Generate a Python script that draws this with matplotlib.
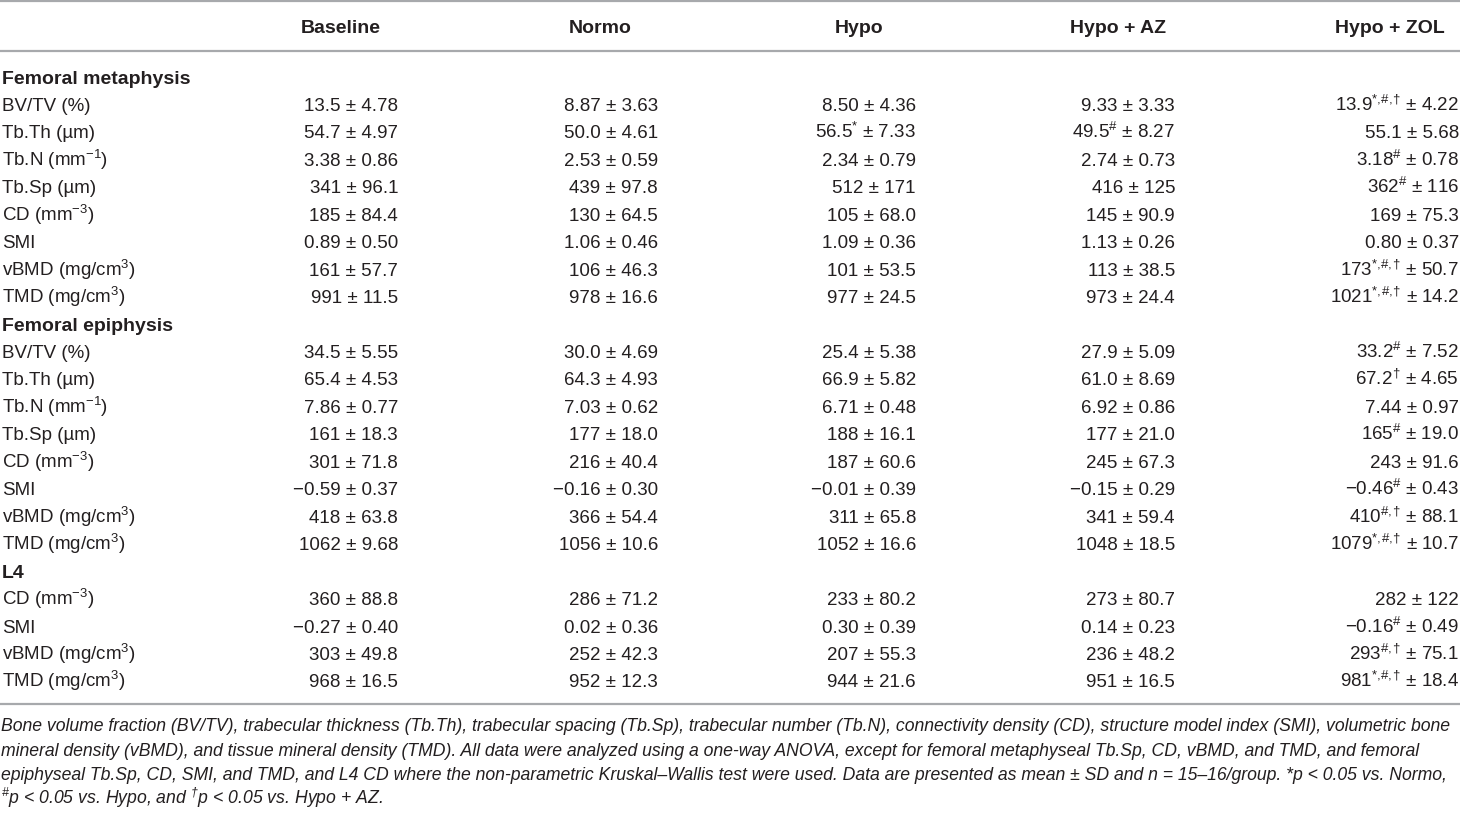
import matplotlib
matplotlib.use("Agg")
import matplotlib.pyplot as plt
from matplotlib import font_manager

# table content
groups = ["Baseline", "Normo", "Hypo", "Hypo + AZ", "Hypo + ZOL"]
sections = ["Femoral metaphysis", "Femoral epiphysis", "L4"]

femur_params = ["BV/TV (%)", "Tb.Th (µm)", "Tb.N (mm$^{-1}$)", "Tb.Sp (µm)",
                "CD (mm$^{-3}$)", "SMI", "vBMD (mg/cm$^{3}$)", "TMD (mg/cm$^{3}$)"]
l4_params = ["CD (mm$^{-3}$)", "SMI", "vBMD (mg/cm$^{3}$)", "TMD (mg/cm$^{3}$)"]

# femoral metaphysis: mean, sd, significance marks (one row per parameter)
meta_mean = [["13.5", "8.87", "8.50", "9.33", "13.9"],
             ["54.7", "50.0", "56.5", "49.5", "55.1"],
             ["3.38", "2.53", "2.34", "2.74", "3.18"],
             ["341", "439", "512", "416", "362"],
             ["185", "130", "105", "145", "169"],
             ["0.89", "1.06", "1.09", "1.13", "0.80"],
             ["161", "106", "101", "113", "173"],
             ["991", "978", "977", "973", "1021"]]
meta_sd = [["4.78", "3.63", "4.36", "3.33", "4.22"],
           ["4.97", "4.61", "7.33", "8.27", "5.68"],
           ["0.86", "0.59", "0.79", "0.73", "0.78"],
           ["96.1", "97.8", "171", "125", "116"],
           ["84.4", "64.5", "68.0", "90.9", "75.3"],
           ["0.50", "0.46", "0.36", "0.26", "0.37"],
           ["57.7", "46.3", "53.5", "38.5", "50.7"],
           ["11.5", "16.6", "24.5", "24.4", "14.2"]]
meta_sig = [["", "", "", "", "*#†"],
            ["", "", "*", "#", ""],
            ["", "", "", "", "#"],
            ["", "", "", "", "#"],
            ["", "", "", "", ""],
            ["", "", "", "", ""],
            ["", "", "", "", "*#†"],
            ["", "", "", "", "*#†"]]

# femoral epiphysis
epi_mean = [["34.5", "30.0", "25.4", "27.9", "33.2"],
            ["65.4", "64.3", "66.9", "61.0", "67.2"],
            ["7.86", "7.03", "6.71", "6.92", "7.44"],
            ["161", "177", "188", "177", "165"],
            ["301", "216", "187", "245", "243"],
            ["−0.59", "−0.16", "−0.01", "−0.15", "−0.46"],
            ["418", "366", "311", "341", "410"],
            ["1062", "1056", "1052", "1048", "1079"]]
epi_sd = [["5.55", "4.69", "5.38", "5.09", "7.52"],
          ["4.53", "4.93", "5.82", "8.69", "4.65"],
          ["0.77", "0.62", "0.48", "0.86", "0.97"],
          ["18.3", "18.0", "16.1", "21.0", "19.0"],
          ["71.8", "40.4", "60.6", "67.3", "91.6"],
          ["0.37", "0.30", "0.39", "0.29", "0.43"],
          ["63.8", "54.4", "65.8", "59.4", "88.1"],
          ["9.68", "10.6", "16.6", "18.5", "10.7"]]
epi_sig = [["", "", "", "", "#"],
           ["", "", "", "", "†"],
           ["", "", "", "", ""],
           ["", "", "", "", "#"],
           ["", "", "", "", ""],
           ["", "", "", "", "#"],
           ["", "", "", "", "#†"],
           ["", "", "", "", "*#†"]]

# L4
l4_mean = [["360", "286", "233", "273", "282"],
           ["−0.27", "0.02", "0.30", "0.14", "−0.16"],
           ["303", "252", "207", "236", "293"],
           ["968", "952", "944", "951", "981"]]
l4_sd = [["88.8", "71.2", "80.2", "80.7", "122"],
         ["0.40", "0.36", "0.39", "0.23", "0.49"],
         ["49.8", "42.3", "55.3", "48.2", "75.1"],
         ["16.5", "12.3", "21.6", "16.5", "18.4"]]
l4_sig = [["", "", "", "", ""],
          ["", "", "", "", "#"],
          ["", "", "", "", "#†"],
          ["", "", "", "", "*#†"]]

notes = [
    "Bone volume fraction (BV/TV), trabecular thickness (Tb.Th), trabecular spacing (Tb.Sp), "
    "trabecular number (Tb.N), connectivity density (CD), structure model index (SMI), volumetric bone",
    "mineral density (vBMD), and tissue mineral density (TMD). All data were analyzed using a one-way "
    "ANOVA, except for femoral metaphyseal Tb.Sp, CD, vBMD, and TMD, and femoral",
    "epiphyseal Tb.Sp, CD, SMI, and TMD, and L4 CD where the non-parametric Kruskal–Wallis test were "
    "used. Data are presented as mean ± SD and n = 15–16/group. *p < 0.05 vs. Normo,",
    r"$^{\#}$p < 0.05 vs. Hypo, and $^{\dagger}$p < 0.05 vs. Hypo + AZ.",
]

# fonts
plt.rcParams["font.family"] = ["Liberation Sans", "DejaVu Sans"]
plt.rcParams["mathtext.fontset"] = "custom"
plt.rcParams["mathtext.rm"] = "Liberation Sans"
plt.rcParams["mathtext.it"] = "Liberation Sans:italic"
plt.rcParams["mathtext.bf"] = "Liberation Sans:bold"
plt.rcParams["mathtext.default"] = "regular"

installed = {f.name for f in font_manager.fontManager.ttflist}
NOTE_FONT = "Liberation Sans Narrow" if "Liberation Sans Narrow" in installed else "Liberation Sans"

INK = "#231f20"
RULE = "#a7a9ac"
col_right = [398, 658, 916, 1175, 1459]
col_head = [341, 600, 859, 1118, 1390]
ROW0 = 83.5
STEP = 27.45


def sig_tex(marks):
    # turns "*#†" into a superscript string, commas kept tight
    sym = {"*": "*", "#": r"\#", "†": r"\!\dagger\!"}
    if marks == "":
        return ""
    return "$^{" + r",\!".join(sym[m] for m in marks) + "}$"


fig = plt.figure(figsize=(14.6, 8.13), dpi=100)
ax = fig.add_axes([0, 0, 1, 1])
ax.set_xlim(0, 1460)
ax.set_ylim(813, 0)
ax.axis("off")

# rules
for y in [1.5, 51, 704]:
    ax.axhline(y, color=RULE, lw=1.6)

# header
for x, g in zip(col_head, groups):
    ax.text(x, 33, g, ha="center", va="baseline", fontsize=14,
            fontweight="bold", color=INK)

blocks = [(femur_params, meta_mean, meta_sd, meta_sig),
          (femur_params, epi_mean, epi_sd, epi_sig),
          (l4_params, l4_mean, l4_sd, l4_sig)]

row = 0
for name, (params, means, sds, sigs) in zip(sections, blocks):
    y = ROW0 + row * STEP
    ax.text(2, y, name, ha="left", va="baseline", fontsize=14,
            fontweight="bold", color=INK)
    row += 1
    for i, p in enumerate(params):
        y = ROW0 + row * STEP
        ax.text(2, y, p, ha="left", va="baseline", fontsize=13.5, color=INK)
        for j in range(len(groups)):
            cell = means[i][j] + sig_tex(sigs[i][j]) + " ± " + sds[i][j]
            ax.text(col_right[j], y, cell, ha="right", va="baseline",
                    fontsize=13.5, color=INK)
        row += 1

# footnote, sized so the first line fills the width
note_y = [731, 755.5, 780, 804]
renderer = fig.canvas.get_renderer()
probe = ax.text(0, 0, notes[0], fontsize=10, family=NOTE_FONT, style="italic")
w = probe.get_window_extent(renderer).width
probe.remove()
note_size = 10 * 1455 / w

for y, line in zip(note_y, notes):
    ax.text(1, y, line, ha="left", va="baseline", fontsize=note_size,
            family=NOTE_FONT, style="italic", color=INK)

fig.savefig("out.png", dpi=100)
